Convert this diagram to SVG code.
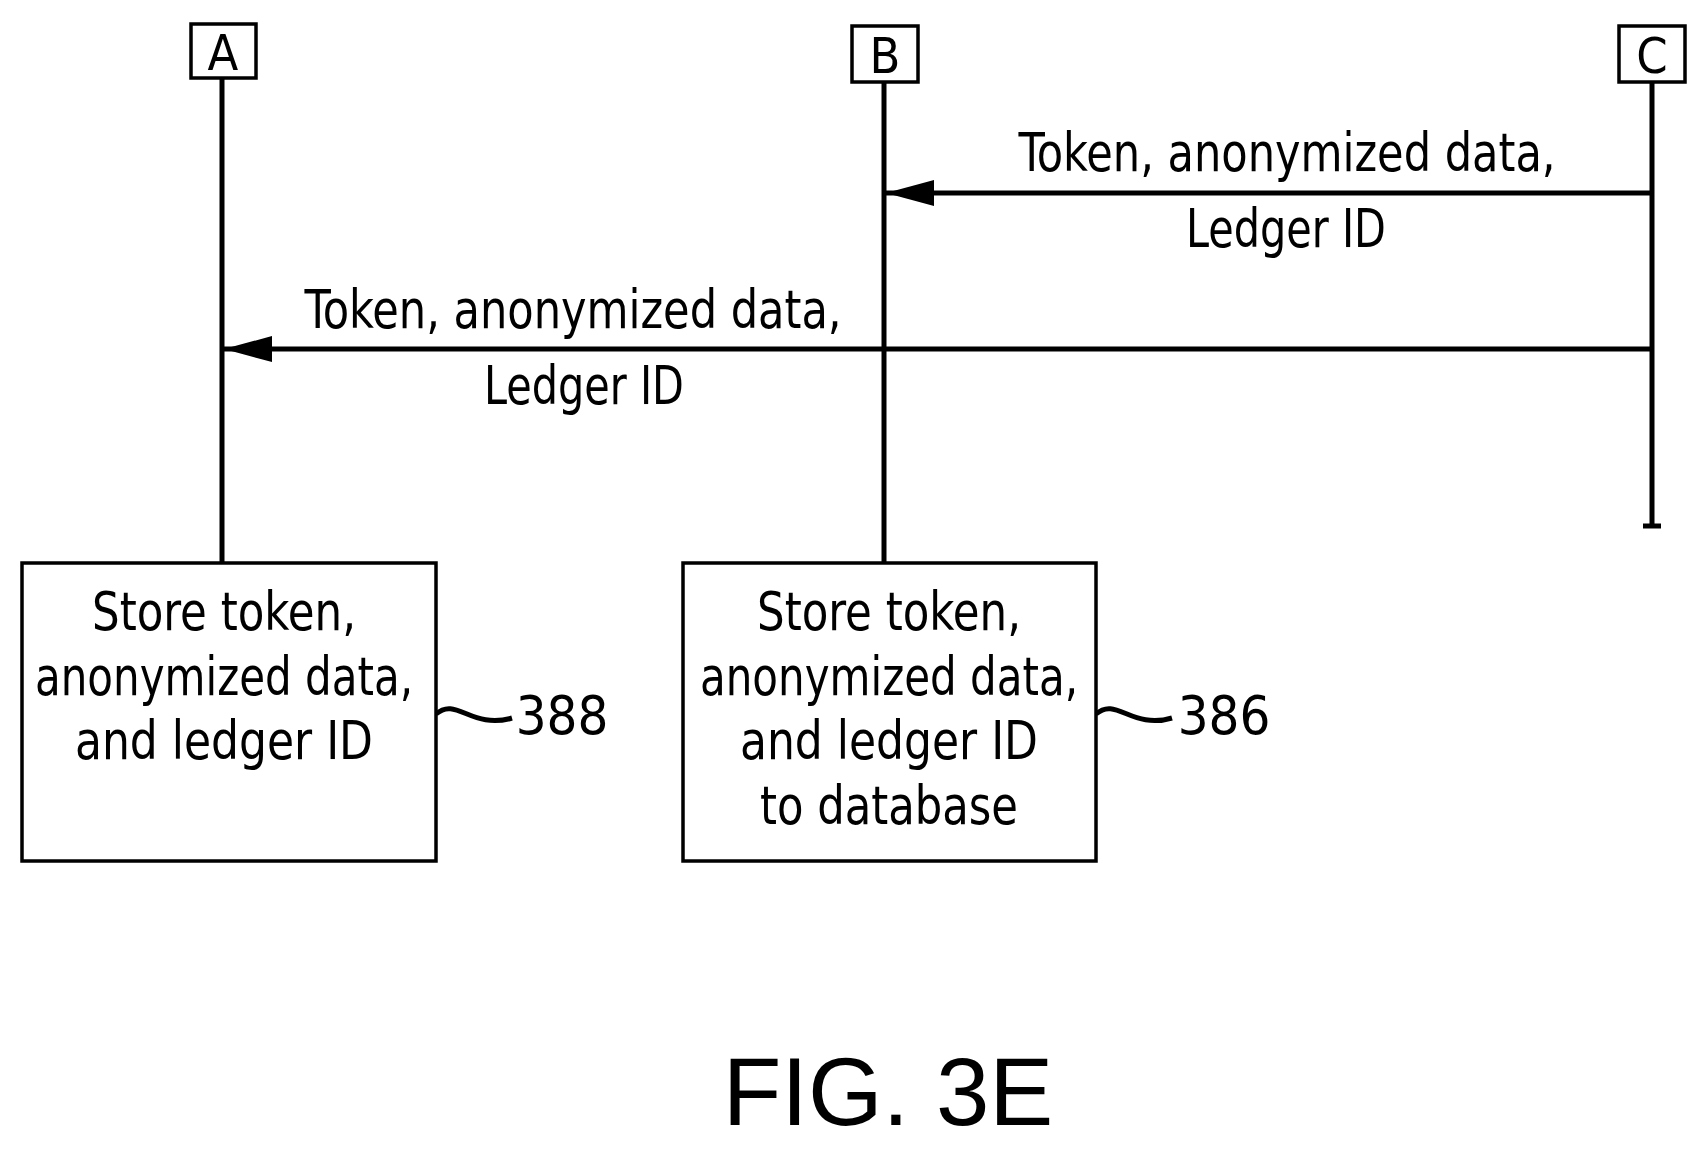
<svg xmlns="http://www.w3.org/2000/svg" width="1700" height="1150" viewBox="0 0 1700 1150">
<style>
.l{stroke:#000;stroke-width:5;fill:none}
.b{stroke:#000;stroke-width:3.5;fill:#fff}
.t{font-family:"DejaVu Sans Condensed","Liberation Sans",sans-serif;font-size:54px;fill:#000;text-anchor:middle}
.h{font-family:"DejaVu Sans Condensed","Liberation Sans",sans-serif;font-size:50px;fill:#000;text-anchor:middle}
</style>
<defs>
<marker id="a" viewBox="0 0 48 26" refX="48" refY="13" markerWidth="48" markerHeight="26" markerUnits="userSpaceOnUse" orient="auto"><path d="M48,13 L0,0 L0,26 Z" fill="#000"/></marker></defs>
<rect width="1700" height="1150" fill="#fff"/>
<g id="lifelines">
<line class="l" x1="222" y1="78" x2="222" y2="563"/>
<line class="l" x1="884" y1="82" x2="884" y2="563"/>
<line class="l" x1="1652" y1="82" x2="1652" y2="526"/>
<path class="l" d="M1643,526 L1661,526" stroke-width="3"/>
</g>
<g id="A"><rect class="b" x="191" y="24" width="65" height="54"/><text class="h" x="223" y="70">A</text></g>
<g id="B"><rect class="b" x="852" y="26" width="66" height="56"/><text class="h" x="885" y="73">B</text></g>
<g id="C"><rect class="b" x="1619" y="26" width="66" height="56"/><text class="h" x="1652" y="73">C</text></g>
<g id="connectors">
<line class="l" x1="1652" y1="193" x2="886" y2="193" marker-end="url(#a)"/>
<line class="l" x1="1652" y1="349" x2="224" y2="349" marker-end="url(#a)"/>
<path class="l" stroke-width="3" d="M436,714 C456,696 472,730 512,718"/>
<path class="l" stroke-width="3" d="M1096,714 C1116,696 1132,730 1172,718"/>
</g>
<g id="labels">
<text class="t" x="1287" y="171" textLength="537" lengthAdjust="spacingAndGlyphs">Token, anonymized data,</text>
<text class="t" x="1286" y="247" textLength="200" lengthAdjust="spacingAndGlyphs">Ledger ID</text>
<text class="t" x="573" y="328" textLength="537" lengthAdjust="spacingAndGlyphs">Token, anonymized data,</text>
<text class="t" x="584" y="404" textLength="200" lengthAdjust="spacingAndGlyphs">Ledger ID</text>
</g>
<g id="n388"><rect class="b" x="22" y="563" width="414" height="298"/>
<text class="t" x="224" y="630" textLength="264" lengthAdjust="spacingAndGlyphs">Store token,</text>
<text class="t" x="224" y="695" textLength="378" lengthAdjust="spacingAndGlyphs">anonymized data,</text>
<text class="t" x="224" y="759" textLength="298" lengthAdjust="spacingAndGlyphs">and ledger ID</text>
<text class="t" x="562" y="734">388</text></g>
<g id="n386"><rect class="b" x="683" y="563" width="413" height="298"/>
<text class="t" x="889" y="630" textLength="264" lengthAdjust="spacingAndGlyphs">Store token,</text>
<text class="t" x="889" y="695" textLength="378" lengthAdjust="spacingAndGlyphs">anonymized data,</text>
<text class="t" x="889" y="759" textLength="298" lengthAdjust="spacingAndGlyphs">and ledger ID</text>
<text class="t" x="889" y="824" textLength="258" lengthAdjust="spacingAndGlyphs">to database</text>
<text class="t" x="1224" y="734">386</text></g>
<text x="888" y="1125" font-family="Liberation Sans,Arial,sans-serif" font-size="96" text-anchor="middle">FIG. 3E</text>
</svg>
